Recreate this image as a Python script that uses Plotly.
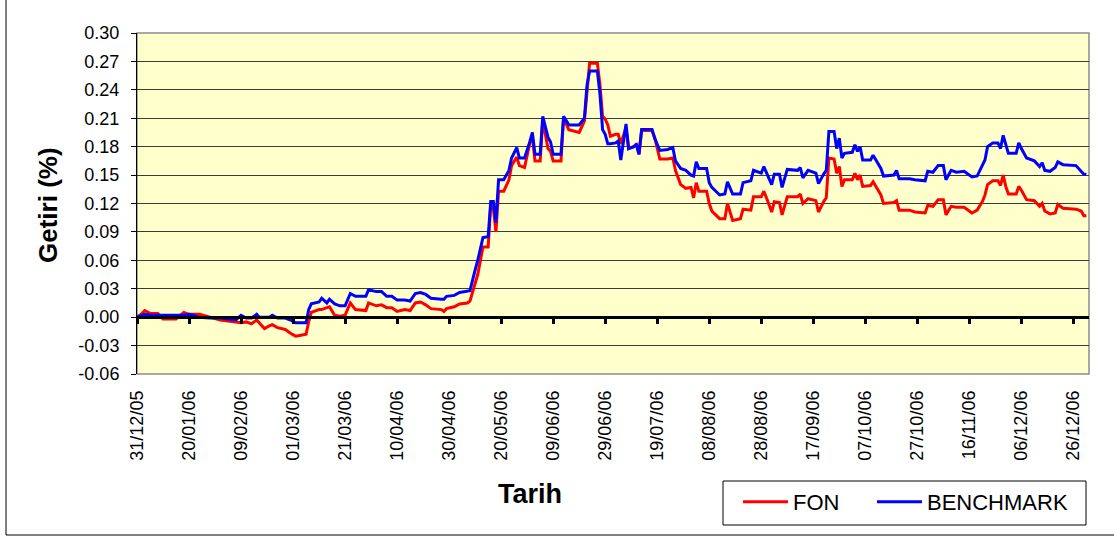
import plotly.graph_objects as go

dates = [
    "2005-12-31", "2006-01-02", "2006-01-03", "2006-01-05", "2006-01-08", "2006-01-10",
    "2006-01-15", "2006-01-17", "2006-01-18", "2006-01-20", "2006-01-24", "2006-01-28",
    "2006-02-01", "2006-02-04", "2006-02-07", "2006-02-09", "2006-02-11", "2006-02-13",
    "2006-02-15", "2006-02-16", "2006-02-18", "2006-02-20", "2006-02-21", "2006-02-23",
    "2006-02-26", "2006-02-28", "2006-03-02", "2006-03-04", "2006-03-06", "2006-03-07",
    "2006-03-08", "2006-03-11", "2006-03-12", "2006-03-14", "2006-03-15", "2006-03-17",
    "2006-03-19", "2006-03-21", "2006-03-23", "2006-03-25", "2006-03-29", "2006-03-30",
    "2006-04-02", "2006-04-04", "2006-04-06", "2006-04-08", "2006-04-10", "2006-04-13",
    "2006-04-15", "2006-04-17", "2006-04-19", "2006-04-21", "2006-04-23", "2006-04-27",
    "2006-04-28", "2006-04-29", "2006-05-02", "2006-05-04", "2006-05-07", "2006-05-08",
    "2006-05-10", "2006-05-11", "2006-05-13", "2006-05-15", "2006-05-16", "2006-05-17",
    "2006-05-18", "2006-05-19", "2006-05-21", "2006-05-23", "2006-05-24", "2006-05-26",
    "2006-05-27", "2006-05-29", "2006-05-31", "2006-06-01", "2006-06-02", "2006-06-04",
    "2006-06-05", "2006-06-07", "2006-06-08", "2006-06-09", "2006-06-12", "2006-06-13",
    "2006-06-15", "2006-06-19", "2006-06-21", "2006-06-22", "2006-06-23", "2006-06-26",
    "2006-06-27", "2006-06-28", "2006-06-29", "2006-06-30", "2006-07-01", "2006-07-03",
    "2006-07-04", "2006-07-05", "2006-07-07", "2006-07-08", "2006-07-10", "2006-07-11",
    "2006-07-12", "2006-07-13", "2006-07-17", "2006-07-18", "2006-07-20", "2006-07-23",
    "2006-07-25", "2006-07-26", "2006-07-28", "2006-07-30", "2006-08-01", "2006-08-02",
    "2006-08-03", "2006-08-04", "2006-08-07", "2006-08-08", "2006-08-09", "2006-08-12",
    "2006-08-14", "2006-08-15", "2006-08-17", "2006-08-20", "2006-08-21", "2006-08-24",
    "2006-08-25", "2006-08-28", "2006-08-29", "2006-08-30", "2006-09-01", "2006-09-02",
    "2006-09-04", "2006-09-05", "2006-09-07", "2006-09-11", "2006-09-12", "2006-09-13",
    "2006-09-15", "2006-09-18", "2006-09-19", "2006-09-21", "2006-09-22", "2006-09-23",
    "2006-09-25", "2006-09-26", "2006-09-27", "2006-09-28", "2006-09-29", "2006-10-02",
    "2006-10-03", "2006-10-04", "2006-10-05", "2006-10-06", "2006-10-09", "2006-10-10",
    "2006-10-13", "2006-10-14", "2006-10-18", "2006-10-19", "2006-10-20", "2006-10-24",
    "2006-10-26", "2006-10-30", "2006-10-31", "2006-11-02", "2006-11-04", "2006-11-06",
    "2006-11-07", "2006-11-09", "2006-11-11", "2006-11-14", "2006-11-17", "2006-11-19",
    "2006-11-21", "2006-11-22", "2006-11-23", "2006-11-25", "2006-11-27", "2006-11-28",
    "2006-11-29", "2006-11-30", "2006-12-01", "2006-12-04", "2006-12-05", "2006-12-06",
    "2006-12-08", "2006-12-11", "2006-12-13", "2006-12-14", "2006-12-15", "2006-12-17",
    "2006-12-19", "2006-12-20", "2006-12-22", "2006-12-27", "2006-12-29", "2006-12-30",
    "2006-12-31",
]

fon = [
    0.000, 0.004, 0.007, 0.004, 0.004, -0.002,
    -0.002, 0.003, 0.005, 0.003, 0.003, 0.000,
    -0.003, -0.004, -0.005, -0.006, -0.005, -0.007,
    -0.003, -0.006, -0.012, -0.009, -0.008, -0.011,
    -0.013, -0.017, -0.020, -0.019, -0.018, -0.005,
    0.005, 0.008, 0.008, 0.010, 0.011, 0.002,
    0.001, 0.002, 0.015, 0.008, 0.007, 0.015,
    0.012, 0.013, 0.010, 0.010, 0.006, 0.008,
    0.007, 0.015, 0.016, 0.013, 0.009, 0.008,
    0.006, 0.009, 0.011, 0.014, 0.015, 0.017,
    0.035, 0.045, 0.074, 0.074, 0.118, 0.115,
    0.090, 0.133, 0.133, 0.145, 0.160, 0.169,
    0.160, 0.158, 0.184, 0.190, 0.165, 0.165,
    0.208, 0.178, 0.175, 0.165, 0.165, 0.210,
    0.198, 0.195, 0.207, 0.240, 0.268, 0.268,
    0.245, 0.212, 0.209, 0.203, 0.191, 0.193,
    0.193, 0.183, 0.200, 0.178, 0.180, 0.183,
    0.172, 0.197, 0.197, 0.190, 0.167, 0.167,
    0.168, 0.155, 0.140, 0.136, 0.137, 0.126,
    0.142, 0.133, 0.133, 0.120, 0.112, 0.104,
    0.104, 0.120, 0.102, 0.104, 0.114, 0.113,
    0.127, 0.127, 0.133, 0.126, 0.111, 0.122,
    0.121, 0.108, 0.127, 0.127, 0.130, 0.120,
    0.125, 0.123, 0.111, 0.122, 0.126, 0.168,
    0.167, 0.152, 0.159, 0.138, 0.145, 0.145,
    0.152, 0.145, 0.150, 0.138, 0.139, 0.143,
    0.129, 0.120, 0.121, 0.123, 0.113, 0.113,
    0.111, 0.110, 0.118, 0.117, 0.124, 0.124,
    0.108, 0.117, 0.116, 0.116, 0.110, 0.113,
    0.122, 0.129, 0.140, 0.144, 0.144, 0.139,
    0.150, 0.138, 0.130, 0.130, 0.138, 0.134,
    0.124, 0.123, 0.117, 0.120, 0.112, 0.109,
    0.110, 0.119, 0.115, 0.114, 0.112, 0.107,
    0.107,
]

benchmark = [
    0.000, 0.002, 0.003, 0.002, 0.002, 0.002,
    0.002, 0.002, 0.002, 0.003, 0.000, -0.001,
    -0.001, -0.002, -0.003, 0.002, -0.001, -0.001,
    0.003, 0.000, 0.000, 0.000, 0.002, -0.001,
    -0.001, -0.003, -0.006, -0.006, -0.006, 0.008,
    0.014, 0.016, 0.020, 0.015, 0.019, 0.014,
    0.012, 0.012, 0.025, 0.022, 0.022, 0.029,
    0.027, 0.027, 0.022, 0.022, 0.018, 0.018,
    0.017, 0.025, 0.026, 0.024, 0.020, 0.019,
    0.019, 0.022, 0.023, 0.026, 0.027, 0.028,
    0.050, 0.060, 0.084, 0.085, 0.122, 0.122,
    0.100, 0.145, 0.145, 0.155, 0.168, 0.179,
    0.168, 0.168, 0.185, 0.195, 0.172, 0.172,
    0.212, 0.190, 0.185, 0.172, 0.172, 0.212,
    0.203, 0.203, 0.210, 0.245, 0.260, 0.260,
    0.235, 0.198, 0.193, 0.183, 0.183, 0.184,
    0.186, 0.166, 0.204, 0.178, 0.180, 0.182,
    0.172, 0.198, 0.198, 0.189, 0.176, 0.177,
    0.179, 0.165, 0.157, 0.155, 0.150, 0.149,
    0.164, 0.157, 0.157, 0.142, 0.137, 0.129,
    0.130, 0.143, 0.130, 0.130, 0.142, 0.144,
    0.155, 0.152, 0.159, 0.153, 0.140, 0.151,
    0.151, 0.137, 0.156, 0.155, 0.158, 0.147,
    0.155, 0.152, 0.141, 0.151, 0.155, 0.196,
    0.196, 0.178, 0.189, 0.168, 0.173, 0.174,
    0.182, 0.175, 0.180, 0.166, 0.166, 0.171,
    0.157, 0.149, 0.150, 0.155, 0.146, 0.146,
    0.145, 0.144, 0.154, 0.153, 0.160, 0.160,
    0.145, 0.155, 0.153, 0.154, 0.148, 0.149,
    0.161, 0.166, 0.180, 0.184, 0.184, 0.178,
    0.192, 0.182, 0.173, 0.173, 0.184, 0.178,
    0.168, 0.165, 0.159, 0.163, 0.155, 0.154,
    0.158, 0.164, 0.161, 0.160, 0.154, 0.151,
    0.151,
]

x_tick_dates = [
    "2005-12-31", "2006-01-20", "2006-02-09", "2006-03-01", "2006-03-21", "2006-04-10",
    "2006-04-30", "2006-05-20", "2006-06-09", "2006-06-29", "2006-07-19", "2006-08-08",
    "2006-08-28", "2006-09-17", "2006-10-07", "2006-10-27", "2006-11-16", "2006-12-06",
    "2006-12-26",
]
x_tick_labels = [
    "31/12/05", "20/01/06", "09/02/06", "01/03/06", "21/03/06", "10/04/06",
    "30/04/06", "20/05/06", "09/06/06", "29/06/06", "19/07/06", "08/08/06",
    "28/08/06", "17/09/06", "07/10/06", "27/10/06", "16/11/06", "06/12/06",
    "26/12/06",
]
y_tick_vals = [-0.06, -0.03, 0.00, 0.03, 0.06, 0.09, 0.12, 0.15, 0.18, 0.21, 0.24, 0.27, 0.30]
y_tick_labels = ["-0.06", "-0.03", "0.00", "0.03", "0.06", "0.09", "0.12", "0.15",
                 "0.18", "0.21", "0.24", "0.27", "0.30"]

FONT = "Arial, Liberation Sans, sans-serif"
W, H = 1114, 538
ML, MR, MT, MB = 137, 25, 33, 164
PW, PH = W - ML - MR, H - MT - MB
y_min, y_max = -0.06, 0.30
x_range = ["2005-12-31", "2007-01-01"]


def px_to_paper_x(px):
    return (px - ML) / PW


def px_to_paper_y(py):
    return (H - MB - py) / PH


fig = go.Figure()
fig.add_trace(go.Scatter(x=dates, y=fon, name="FON", mode="lines",
                         line=dict(color="#FF0000", width=3), xaxis="x", yaxis="y",
                         legend="legend"))
fig.add_trace(go.Scatter(x=dates, y=benchmark, name="BENCHMARK", mode="lines",
                         line=dict(color="#0000FF", width=3), xaxis="x2", yaxis="y",
                         legend="legend2"))

zero_pos = (0 - y_min) / (y_max - y_min)

legend_common = dict(
    orientation="h", xanchor="left", yanchor="top", bgcolor="rgba(0,0,0,0)",
    borderwidth=0, font=dict(size=22, family=FONT), itemwidth=45,
)

fig.update_layout(
    width=W, height=H,
    margin=dict(l=ML, r=MR, t=MT, b=MB, pad=0),
    paper_bgcolor="white",
    plot_bgcolor="#FFFFCC",
    font=dict(family=FONT, color="black"),
    showlegend=True,
    xaxis=dict(
        type="date", range=x_range, tickmode="array",
        tickvals=x_tick_dates, ticktext=x_tick_labels, tickangle=-90,
        tickfont=dict(size=18, family=FONT), ticks="", showgrid=False,
        showline=False, zeroline=False, ticklabelstandoff=12,
    ),
    xaxis2=dict(
        type="date", range=x_range, overlaying="x", anchor="free", position=zero_pos,
        side="bottom", matches="x", tickmode="array", tickvals=x_tick_dates,
        showticklabels=False, ticks="outside", ticklen=5, tickwidth=2.5, tickcolor="black",
        showline=True, linewidth=3, linecolor="black", showgrid=False, zeroline=False,
    ),
    yaxis=dict(
        range=[y_min, y_max], tickmode="array", tickvals=y_tick_vals, ticktext=y_tick_labels,
        tickfont=dict(size=18, family=FONT), ticks="outside", ticklen=5, tickwidth=1,
        tickcolor="black", showline=True, linewidth=1, linecolor="black",
        showgrid=True, gridcolor="#3a3a3a", gridwidth=1, zeroline=False,
        ticklabelstandoff=8,
    ),
    legend=dict(legend_common, x=px_to_paper_x(738), y=px_to_paper_y(481)),
    legend2=dict(legend_common, x=px_to_paper_x(872), y=px_to_paper_y(481)),
    shapes=[
        dict(type="rect", xref="paper", yref="paper", x0=0, x1=1, y0=0, y1=1,
             line=dict(color="#8c8c8c", width=1.5), layer="below"),
        dict(type="path", xref="paper", yref="paper",
             path=(f"M {px_to_paper_x(6)} {px_to_paper_y(-5)} "
                   f"L {px_to_paper_x(6)} {px_to_paper_y(535)} "
                   f"L {px_to_paper_x(W + 5)} {px_to_paper_y(535)}"),
             line=dict(color="black", width=1)),
        dict(type="rect", xref="paper", yref="paper",
             x0=px_to_paper_x(723), x1=px_to_paper_x(1086),
             y0=px_to_paper_y(525), y1=px_to_paper_y(481),
             line=dict(color="black", width=1), fillcolor="white", layer="below"),
    ],
    annotations=[
        dict(text="<b>Tarih</b>", xref="paper", yref="paper",
             x=px_to_paper_x(530), y=px_to_paper_y(494), showarrow=False,
             font=dict(size=27, family=FONT), xanchor="center", yanchor="middle"),
        dict(text="<b>Getiri (%)</b>", xref="paper", yref="paper",
             x=px_to_paper_x(48), y=px_to_paper_y(205), showarrow=False, textangle=-90,
             font=dict(size=26, family=FONT), xanchor="center", yanchor="middle"),
    ],
)

fig.write_html("out.html", config={"displayModeBar": False},
               post_script="document.body.style.margin='0';")
